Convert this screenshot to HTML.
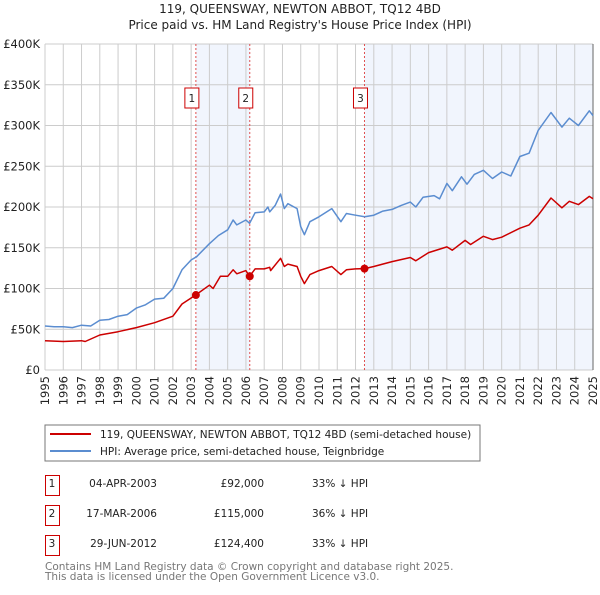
<!DOCTYPE html>
<html><head><meta charset="utf-8"><style>
body{margin:0;background:#fff;}
svg text{font-family:"DejaVu Sans","Liberation Sans",sans-serif;}
</style></head><body>
<svg id="c" width="600" height="590" xmlns="http://www.w3.org/2000/svg">
<text x="300" y="13" text-anchor="middle" font-size="12" fill="#222">119, QUEENSWAY, NEWTON ABBOT, TQ12 4BD</text>
<text x="300" y="29" text-anchor="middle" font-size="12" fill="#222">Price paid vs. HM Land Registry's House Price Index (HPI)</text>
<g id="plot"></g>
<g>
<rect x="45" y="425" width="435" height="36" fill="#fff" stroke="#777"/>
<line x1="50" y1="434" x2="91" y2="434" stroke="#cc0000" stroke-width="2"/>
<text x="100" y="438" font-size="10.5" fill="#222">119, QUEENSWAY, NEWTON ABBOT, TQ12 4BD (semi-detached house)</text>
<line x1="50" y1="451" x2="91" y2="451" stroke="#5b8dd0" stroke-width="2"/>
<text x="100" y="455" font-size="10.5" fill="#222">HPI: Average price, semi-detached house, Teignbridge</text>
</g>
<g font-size="10.5" fill="#222">
<rect x="45.5" y="475.5" width="14" height="20" fill="none" stroke="#cc0000"/><text x="52" y="487" text-anchor="middle">1</text>
<text x="157" y="487" text-anchor="end">04-APR-2003</text><text x="264" y="487" text-anchor="end">£92,000</text><text x="312" y="487">33% ↓ HPI</text>
<rect x="45.5" y="505.5" width="14" height="20" fill="none" stroke="#cc0000"/><text x="52" y="517" text-anchor="middle">2</text>
<text x="157" y="517" text-anchor="end">17-MAR-2006</text><text x="264" y="517" text-anchor="end">£115,000</text><text x="312" y="517">36% ↓ HPI</text>
<rect x="45.5" y="535.5" width="14" height="20" fill="none" stroke="#cc0000"/><text x="52" y="547" text-anchor="middle">3</text>
<text x="157" y="547" text-anchor="end">29-JUN-2012</text><text x="264" y="547" text-anchor="end">£124,400</text><text x="312" y="547">33% ↓ HPI</text>
</g>
<text x="45" y="570" font-size="10.5" fill="#777">Contains HM Land Registry data © Crown copyright and database right 2025.</text>
<text x="45" y="580" font-size="10.5" fill="#777">This data is licensed under the Open Government Licence v3.0.</text>
</svg>
<script>
const hpiYears=[1995,1995.5,1996,1996.5,1997,1997.5,1998,1998.5,1999,1999.5,2000,2000.5,2001,2001.5,2002,2002.5,2003,2003.3,2004,2004.5,2005,2005.3,2005.5,2006,2006.2,2006.5,2007,2007.2,2007.3,2007.6,2007.9,2008.1,2008.3,2008.8,2009,2009.2,2009.5,2010,2010.7,2011.2,2011.5,2012,2012.5,2013,2013.5,2014,2014.5,2015,2015.3,2015.7,2016.3,2016.6,2017,2017.3,2017.8,2018.1,2018.5,2019,2019.5,2020,2020.5,2021,2021.5,2022,2022.7,2023.3,2023.7,2024.2,2024.8,2025];
const hpiValues=[54,53,53,52,55,54,61,62,66,68,76,80,87,88,100,123,135,139,155,165,172,184,178,184,180,193,194,200,194,202,216,198,204,198,176,166,182,188,198,182,192,190,188,190,195,197,202,206,200,212,214,210,229,220,237,228,240,245,235,243,238,262,266,294,316,298,309,300,318,312];
const priceYears=[1995,1996,1997,1997.2,1998,1999,2000,2001,2002,2002.5,2003.25,2004,2004.2,2004.6,2005,2005.3,2005.5,2006,2006.2,2006.5,2007,2007.3,2007.35,2007.9,2008.1,2008.3,2008.8,2009,2009.2,2009.5,2010,2010.7,2011.2,2011.5,2012,2012.5,2013,2014,2015,2015.3,2016,2017,2017.3,2018,2018.3,2019,2019.5,2020,2021,2021.5,2022,2022.7,2023.3,2023.7,2024.2,2024.8,2025];
const priceValues=[36,35,36,35,43,47,52,58,66,81,92,104,100,115,115,123,118,122,115,124,124,126,122,137,127,130,127,115,106,117,122,127,117,123,124,124.4,127,133,138,134,144,151,147,159,154,164,160,163,174,178,190,211,199,207,203,213,210];
const saleYears=[2003.26,2006.21,2012.49];
const saleValues=[92,115,124.4];
const saleLabels=["1","2","3"];
const yTicks=[0,50,100,150,200,250,300,350,400];
const yTickLabels=["£0","£50K","£100K","£150K","£200K","£250K","£300K","£350K","£400K"];
const xTicks=[1995,1996,1997,1998,1999,2000,2001,2002,2003,2004,2005,2006,2007,2008,2009,2010,2011,2012,2013,2014,2015,2016,2017,2018,2019,2020,2021,2022,2023,2024,2025];

const L=45,R=593,T=44,B=370;
const xs=y=>L+(y-1995)/30*(R-L);
const ys=v=>B-v/400*(B-T);
const NS="http://www.w3.org/2000/svg";
const g=document.getElementById('plot');
function mk(tag,attrs,parent){const e=document.createElementNS(NS,tag);for(const k in attrs)e.setAttribute(k,attrs[k]);(parent||g).appendChild(e);return e;}
const sh1=mk('rect',{x:xs(saleYears[0]),y:T,width:xs(saleYears[1])-xs(saleYears[0]),height:B-T,fill:'#eef3fc',opacity:0.8});


const sh2=mk('rect',{x:xs(saleYears[2]),y:T,width:R-xs(saleYears[2]),height:B-T,fill:'#eef3fc',opacity:0.8});


xTicks.forEach((t,i)=>{
 const l=mk('line',{x1:xs(t),x2:xs(t),y1:T,y2:B,stroke:'#ccc','stroke-width':1});
 
 
 const tx=mk('text',{x:0,y:0,'font-size':11.5,fill:'#222','text-anchor':'end',transform:`translate(${xs(t)+4},${B+6}) rotate(-90)`});
 tx.textContent=String(t);
 
 
});
yTicks.forEach((t,i)=>{
 const l=mk('line',{x1:L,x2:R,y1:ys(t),y2:ys(t),stroke:'#ccc','stroke-width':1});
 
 
 const tx=mk('text',{x:L-5,y:ys(t)+4,'font-size':11.5,fill:'#222','text-anchor':'end'});
 tx.textContent=yTickLabels[i];
 
 
});
const ax=mk('line',{x1:R,x2:R,y1:T,y2:B,stroke:'#666','stroke-width':1});


saleYears.forEach((s,i)=>{
 const l=mk('line',{x1:xs(s),x2:xs(s),y1:T,y2:B,stroke:'#e05050','stroke-width':1,'stroke-dasharray':'2,2'});
 
 
 const bx=mk('rect',{x:xs(s)-11,y:88,width:14,height:20,fill:'#fff',stroke:'#cc0000'});
 
 
 const tx=mk('text',{x:xs(s)-4,y:102,'font-size':10.5,fill:'#222','text-anchor':'middle'});
 tx.textContent=saleLabels[i];
 
 
});
function line(xsArr,vals,col,name){
 const p=mk('polyline',{points:xsArr.map((y,i)=>xs(y).toFixed(1)+','+ys(vals[i]).toFixed(1)).join(' '),fill:'none',stroke:col,'stroke-width':1.5,'stroke-linejoin':'round'});
 
 
}
line(hpiYears,hpiValues,'#5b8dd0','hpi-line');
line(priceYears,priceValues,'#cc0000','price-line');
saleYears.forEach((s,i)=>{
 const c=mk('circle',{cx:xs(s),cy:ys(saleValues[i]),r:4,fill:'#cc0000'});
 
 
});
</script>
</body></html>
